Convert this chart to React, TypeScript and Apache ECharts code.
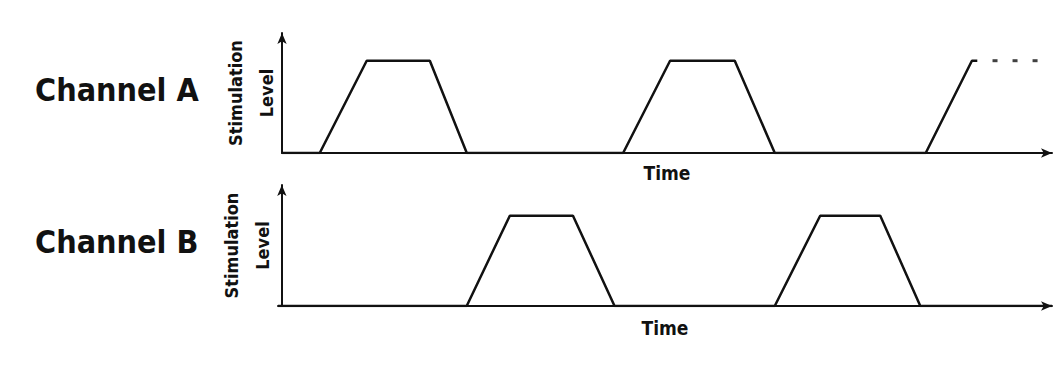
import React, { useEffect, useRef } from "react";
import * as echarts from "echarts";

// Time units along the horizontal axis (0..100), stimulation level 0..1
const channelA: [number, number][] = [
  [0, 0], [4.9, 0], [11.0, 1], [19.2, 1], [24.0, 0],
  [44.3, 0], [50.4, 1], [58.8, 1], [64.0, 0],
  [83.6, 0], [89.6, 1], [90.3, 1],
];
const channelADots: [number, number][] = [[92.6, 1], [95.2, 1], [97.8, 1]];
const channelB: [number, number][] = [
  [-0.5, 0], [24.0, 0], [29.6, 1], [37.8, 1], [43.2, 0],
  [64.0, 0], [69.9, 1], [77.7, 1], [82.9, 0], [100, 0],
];
const channelNames = ["Channel A", "Channel B"];
const xName = "Time";
const yName = "Stimulation\nLevel";

const FONT = "'DejaVu Sans Condensed', 'Liberation Sans Narrow', 'DejaVu Sans', sans-serif";

export default function App() {
  const ref = useRef<HTMLDivElement>(null);
  useEffect(() => {
    if (!ref.current) return;
    const chart = echarts.init(ref.current, null, { renderer: "svg" });
    const axisLine = {
      show: true,
      symbol: ["none", "arrow"],
      symbolSize: [7, 11],
      lineStyle: { color: "#111", width: 2 },
    };
    const xAxisCommon = {
      type: "value" as const,
      max: 100,
      name: xName,
      nameLocation: "middle" as const,
      nameGap: 10,
      nameTextStyle: {
        fontFamily: FONT, fontWeight: "bold", fontSize: 19, color: "#111",
        verticalAlign: "top" as const,
      },
      axisLine,
      axisTick: { show: false },
      axisLabel: { show: false },
      splitLine: { show: false },
    };
    const yAxisCommon = {
      type: "value" as const,
      min: 0,
      name: yName,
      nameLocation: "middle" as const,
      nameRotate: 90,
      nameGap: 0,
      nameTextStyle: { fontFamily: FONT, fontWeight: "bold", fontSize: 18, color: "#111", lineHeight: 31 },
      axisLine,
      axisTick: { show: false },
      axisLabel: { show: false },
      splitLine: { show: false },
    };
    const lineStyle = { color: "#111", width: 2.5 };
    chart.setOption({
      animation: false,
      backgroundColor: "#fff",
      grid: [
        { left: 282, right: 2, top: 33, height: 120 },
        { left: 278, right: 2, top: 185, height: 121 },
      ],
      xAxis: [
        { ...xAxisCommon, gridIndex: 0, min: 0 },
        { ...xAxisCommon, gridIndex: 1, min: -0.5, nameGap: 12 },
      ],
      yAxis: [
        { ...yAxisCommon, gridIndex: 0, max: 1.3 },
        { ...yAxisCommon, gridIndex: 1, max: 1.34 },
      ],
      graphic: [
        {
          type: "text", left: 35, top: 74,
          style: { text: channelNames[0], font: `bold 32px ${FONT}`, fill: "#111" },
        },
        {
          type: "text", left: 35, top: 226,
          style: { text: channelNames[1], font: `bold 32px ${FONT}`, fill: "#111" },
        },
      ],
      series: [
        {
          type: "line", xAxisIndex: 0, yAxisIndex: 0, data: channelA,
          showSymbol: false, lineStyle,
        },
        {
          type: "scatter", xAxisIndex: 0, yAxisIndex: 0, data: channelADots,
          symbol: "rect", symbolSize: [5, 3], itemStyle: { color: "#111" },
        },
        {
          type: "line", xAxisIndex: 1, yAxisIndex: 1, data: channelB,
          showSymbol: false, lineStyle,
        },
      ],
    });
    return () => chart.dispose();
  }, []);
  return <div ref={ref} style={{ width: 1054, height: 365, position: "absolute", left: 0, top: 0 }} />;
}
